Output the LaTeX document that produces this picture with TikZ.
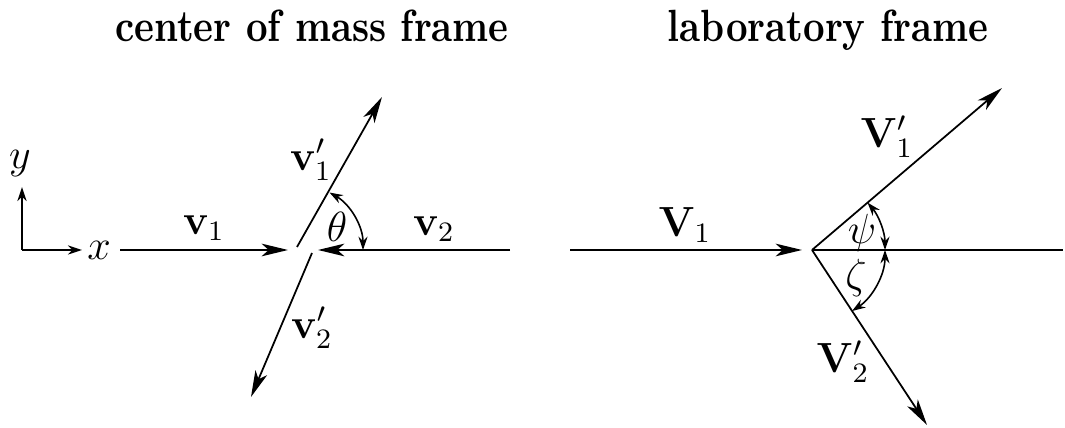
\documentclass[tikz,border=0pt]{standalone}
\usepackage{amsmath,amssymb}
\usetikzlibrary{arrows.meta}

\begin{document}
\begin{tikzpicture}[>={Stealth[length=7.5pt,width=3.6pt,inset=2pt]},
    vec/.style={->, line width=0.5pt},
    axis/.style={-{Stealth[length=4pt,width=2.6pt]}, line width=0.5pt},
    ang/.style={{Stealth[length=3.8pt,width=2.6pt]}-{Stealth[length=3.8pt,width=2.6pt]}, line width=0.45pt},
    lbl/.style={font=\fontsize{12}{14}\selectfont, inner sep=0pt},
    ttl/.style={font=\fontsize{10.7}{13}\selectfont\bfseries, anchor=base, inner sep=0pt,
      yscale=1.2, transform shape}]
  \useasboundingbox (0,0) rectangle (10.65,4.28);
  % --- titles ---
  \node[ttl] (cmtitle) at (3.12,3.86) {center of mass frame};
  \node[ttl] (labtitle) at (8.28,3.86) {laboratory frame};
  % --- axes ---
  \coordinate (O) at (0.22,1.78);
  \coordinate (xtip) at (0.82,1.78);
  \coordinate (ytip) at (0.22,2.41);
  \draw[axis] (O) -- (xtip);
  \draw[axis] (O) -- (ytip);
  \node[lbl] (xlab) at (0.99,1.78) {$x$};
  \node[lbl] (ylab) at (0.20,2.64) {$y$};
  % --- center of mass frame ---
  \coordinate (v1s) at (1.20,1.78);
  \coordinate (v1t) at (2.88,1.78);
  \coordinate (v2s) at (5.10,1.78);
  \coordinate (v2t) at (3.18,1.78);
  \coordinate (u1s) at (2.97,1.81);
  \coordinate (u1t) at (3.82,3.31);
  \coordinate (u2s) at (3.12,1.75);
  \coordinate (u2t) at (2.51,0.31);
  \coordinate (cm) at (2.97,1.78);
  \draw[vec] (v1s) -- (v1t);
  \draw[vec] (v2s) -- (v2t);
  \draw[vec] (u1s) -- (u1t);
  \draw[vec] (u2s) -- (u2t);
  \draw[ang] ([shift={(60.5:0.66)}]cm) arc[start angle=60.5, end angle=0, radius=0.66];
  \node[lbl] (v1lab) at (2.04,2.00) {$\mathbf{v}_1$};
  \node[lbl] (v2lab) at (4.34,1.99) {$\mathbf{v}_2$};
  \node[lbl] (u1lab) at (3.11,2.68) {$\mathbf{v}'_1$};
  \node[lbl] (u2lab) at (3.12,1.00) {$\mathbf{v}'_2$};
  \node[lbl] (thlab) at (3.37,2.01) {$\theta$};
  % --- laboratory frame ---
  \coordinate (V1s) at (5.70,1.78);
  \coordinate (V1t) at (8.02,1.78);
  \coordinate (P) at (8.12,1.78);
  \coordinate (Pend) at (10.63,1.78);
  \coordinate (U1t) at (10.02,3.40);
  \coordinate (U2t) at (9.27,0.03);
  \draw[vec] (V1s) -- (V1t);
  \draw[line width=0.5pt] (P) -- (Pend);
  \draw[vec] (P) -- (U1t);
  \draw[vec] (P) -- (U2t);
  \draw[ang] ([shift={(40.45:0.73)}]P) arc[start angle=40.45, end angle=0, radius=0.73];
  \draw[ang] ([shift={(0:0.73)}]P) arc[start angle=0, end angle=-56.7, radius=0.73];
  \node[lbl] (V1lab) at (6.85,2.03) {$\mathbf{V}_1$};
  \node[lbl] (U1lab) at (8.87,2.91) {$\mathbf{V}'_1$};
  \node[lbl] (U2lab) at (8.43,0.66) {$\mathbf{V}'_2$};
  \node[lbl] (psilab) at (8.62,1.95) {$\psi$};
  \node[lbl] (zetalab) at (8.56,1.50) {$\zeta$};
\end{tikzpicture}
\end{document}
